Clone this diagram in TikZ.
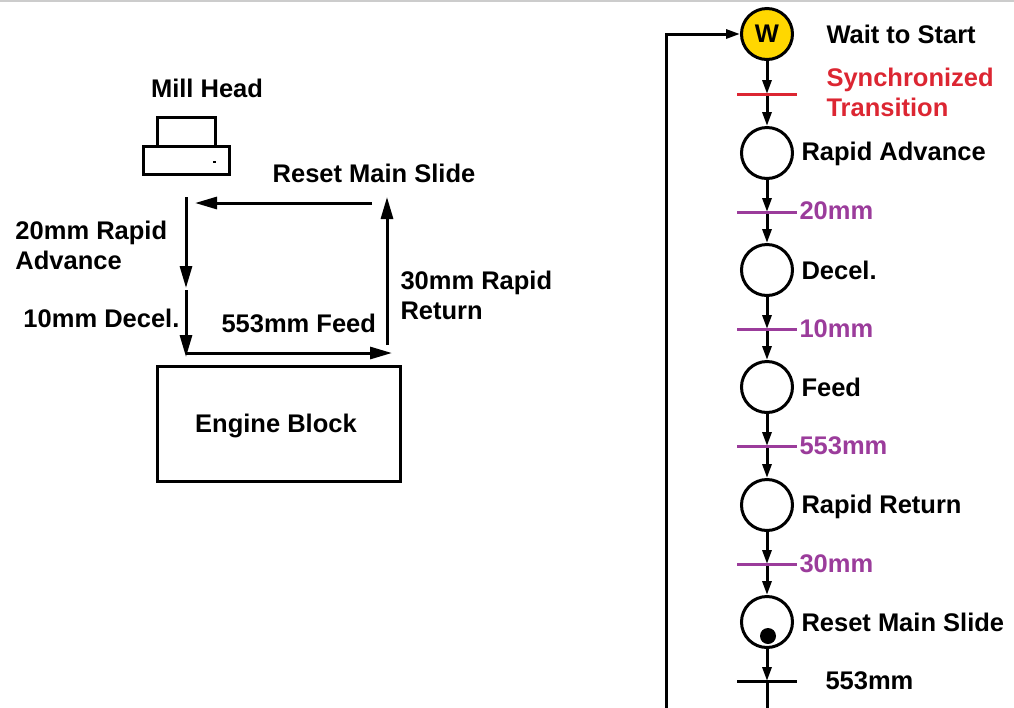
\documentclass[tikz,border=0pt]{standalone}
\usepackage{fontspec}
\setmainfont{Liberation Sans}
\usetikzlibrary{arrows.meta,positioning,calc}
\definecolor{syncred}{RGB}{220,38,50}
\definecolor{mmpurple}{RGB}{155,60,155}
\definecolor{wyellow}{RGB}{255,215,0}
\def\millhead{(157,117) rectangle (215,146)}
\def\millbody{(143,146) rectangle (229,174)}
\begin{document}
\begin{tikzpicture}[x=0.5pt,y=-0.5pt,line width=1.5pt,
  >={Triangle[length=7pt,width=4.5pt]},
  every node/.style={font=\bfseries\fontsize{12.75}{15}\selectfont},
  state/.style={circle,draw,minimum size=25.5pt,inner sep=0pt},
  lbl/.style={anchor=base west,inner sep=0pt},
  twolbl/.style={anchor=north west,inner sep=0pt,align=left},
  big/.style={-{Triangle[length=11pt,width=6pt]}}]
\useasboundingbox (0,0) rectangle (1014,708);
\draw[black!20,line width=1pt] (0,1) -- (1014,1);
\draw \millhead;
\draw \millbody;
\draw[line width=0.6pt] (213,162) -- (216,162);
\node[anchor=base] (mh) at (207,97) {Mill Head};
\draw (157,366) rectangle (400,481);
\node[anchor=base] (eb) at (276,432) {Engine Block};
\coordinate (ra1) at (186,197);
\coordinate (ra2) at (186,288);
\coordinate (dc1) at (186,290);
\coordinate (dc2) at (186,357);
\coordinate (fd1) at (186,353);
\coordinate (fd2) at (392,353);
\coordinate (rr1) at (387,345);
\coordinate (rr2) at (387,197);
\coordinate (rs1) at (372,203);
\coordinate (rs2) at (195,203);
\draw[big] (ra1) -- (ra2);
\draw[big] (dc1) -- (dc2);
\draw[big] (fd1) -- (fd2);
\draw[big] (rr1) -- (rr2);
\draw[big] (rs1) -- (rs2);
\node[anchor=base] (lrs) at (374,182) {Reset Main Slide};
\node[twolbl] (lra) at (14,219.5) {20mm Rapid\\Advance};
\node[lbl] (ldc) at (22,327) {10mm Decel.};
\node[lbl] (lfd) at (220,332) {553mm Feed};
\node[twolbl] (lrr) at (399,269.5) {30mm Rapid\\Return};

\node[state,fill=wyellow] (w) at (767,34) {W};
\foreach \i/\y in {1/153,2/270,3/387,4/505,5/622}
  \node[state] (s\i) at (767,\y) {};
\node[circle,fill,inner sep=0pt,minimum size=8pt] (tok) at (768,636) {};
\foreach \i/\y in {0/94,1/212,2/329,3/446,4/564,5/681}
  \coordinate (t\i) at (767,\y);
\coordinate (end) at (767,708);
\coordinate (loop) at (666,708);
\draw[->] (w) -- (t0);
\foreach \i [evaluate=\i as \j using int(\i+1)] in {0,...,4} {
  \draw[->] (t\i) -- (s\j);
  \draw[->] (s\j) -- (t\j);
}
\draw (t5) -- (end);
\draw[->] (loop) |- (w);
\draw[syncred] ($(t0)+(-30,0)$) -- ($(t0)+(30,0)$);
\foreach \i in {1,...,4}
  \draw[mmpurple] ($(t\i)+(-30,0)$) -- ($(t\i)+(30,0)$);
\draw ($(t5)+(-30,0)$) -- ($(t5)+(30,0)$);
\node[lbl] (lw) at (825,43) {Wait to Start};
\node[twolbl,text=syncred] (lsync) at (825,66.5) {Synchronized\\Transition};
\node[lbl] (l1) at (800,160) {Rapid Advance};
\node[lbl] (l2) at (800,279) {Decel.};
\node[lbl] (l3) at (800,396) {Feed};
\node[lbl] (l4) at (800,513) {Rapid Return};
\node[lbl] (l5) at (800,631) {Reset Main Slide};
\node[lbl,text=mmpurple] (m1) at (798,219) {20mm};
\node[lbl,text=mmpurple] (m2) at (798,337) {10mm};
\node[lbl,text=mmpurple] (m3) at (798,454) {553mm};
\node[lbl,text=mmpurple] (m4) at (798,572) {30mm};
\node[lbl] (m5) at (824,689) {553mm};
\end{tikzpicture}
\end{document}
